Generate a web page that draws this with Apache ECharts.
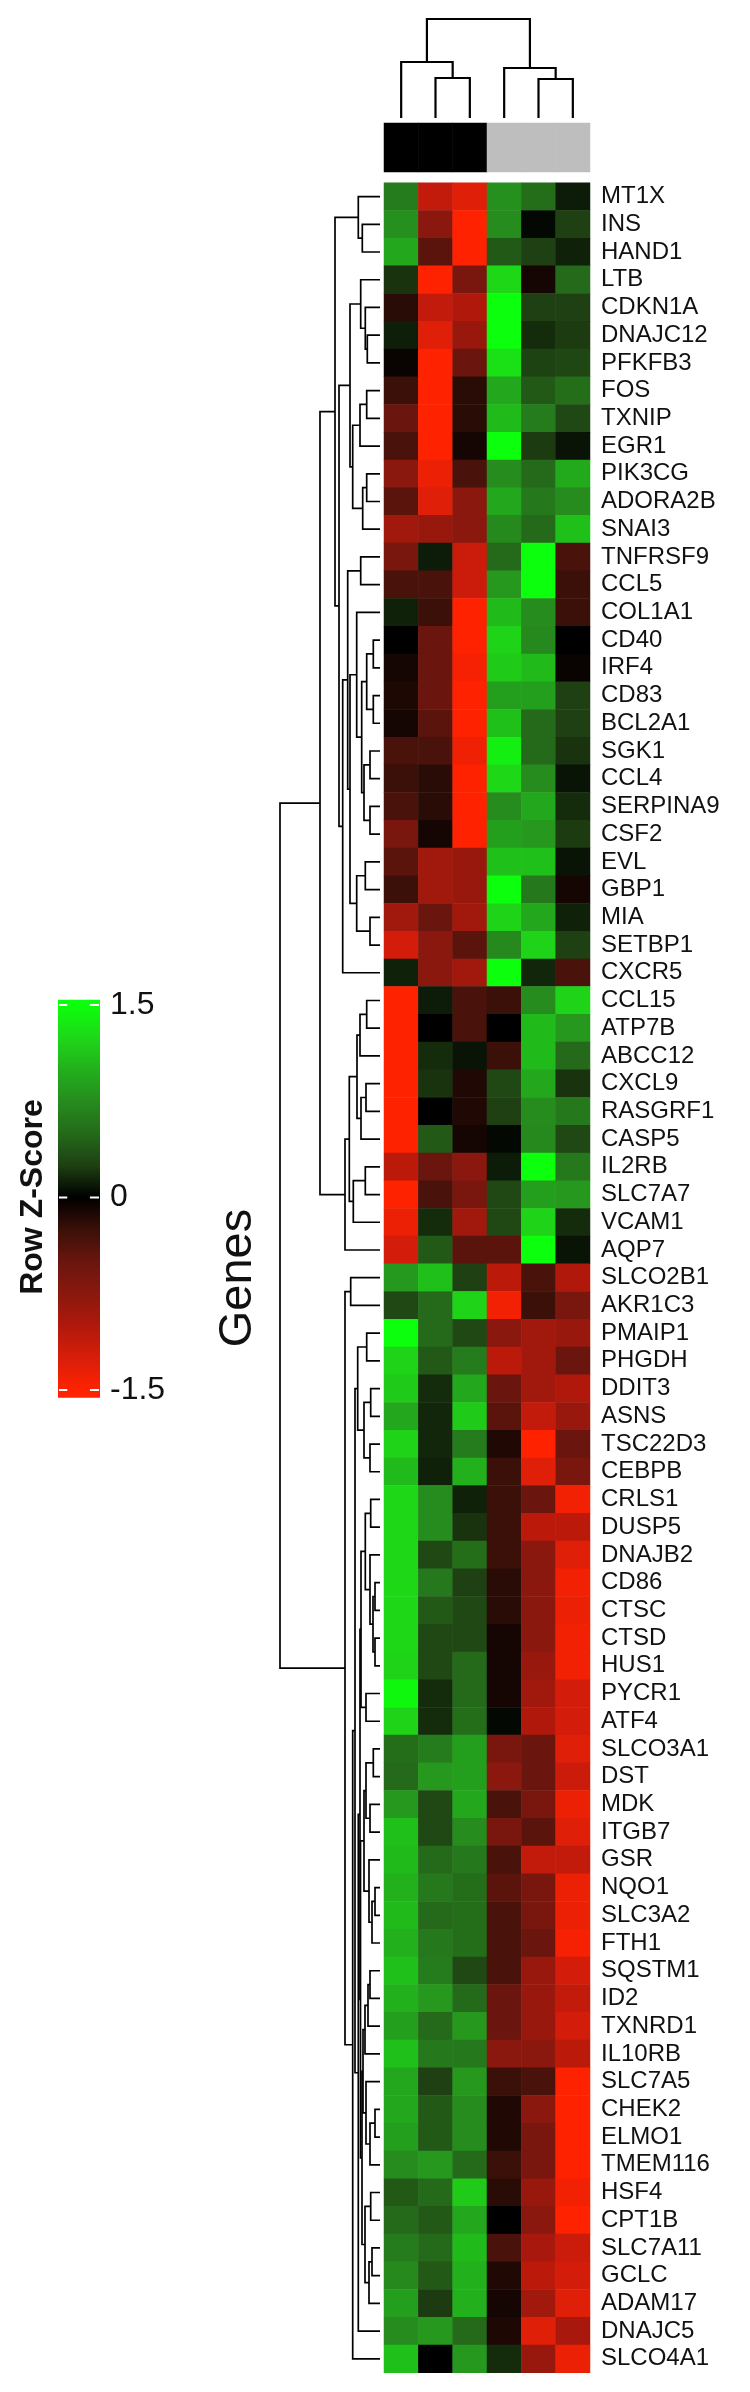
<!DOCTYPE html>
<html><head><meta charset="utf-8">
<script src="https://cdn.jsdelivr.net/npm/echarts@6/dist/echarts.min.js"></script>
<style>html,body{margin:0;padding:0;background:#fff}#c{width:750px;height:2392px}</style>
</head><body><div id="c"></div>
<script>
const genes = ['MT1X','INS','HAND1','LTB','CDKN1A','DNAJC12','PFKFB3','FOS','TXNIP','EGR1','PIK3CG','ADORA2B','SNAI3','TNFRSF9','CCL5','COL1A1','CD40','IRF4','CD83','BCL2A1','SGK1','CCL4','SERPINA9','CSF2','EVL','GBP1','MIA','SETBP1','CXCR5','CCL15','ATP7B','ABCC12','CXCL9','RASGRF1','CASP5','IL2RB','SLC7A7','VCAM1','AQP7','SLCO2B1','AKR1C3','PMAIP1','PHGDH','DDIT3','ASNS','TSC22D3','CEBPB','CRLS1','DUSP5','DNAJB2','CD86','CTSC','CTSD','HUS1','PYCR1','ATF4','SLCO3A1','DST','MDK','ITGB7','GSR','NQO1','SLC3A2','FTH1','SQSTM1','ID2','TXNRD1','IL10RB','SLC7A5','CHEK2','ELMO1','TMEM116','HSF4','CPT1B','SLC7A11','GCLC','ADAM17','DNAJC5','SLCO4A1'];
const samples = ['S1','S2','S3','S4','S5','S6'];
const sampleGroup = [0,0,0,1,1,1];
const z1 = [0.63,0.78,0.94,0.2,-0.18,0.12,-0.04,-0.25,-0.5,-0.33,-0.75,-0.42,-0.9,-0.62,-0.33,0.13,0,-0.09,-0.13,-0.09,-0.33,-0.25,-0.33,-0.62,-0.42,-0.25,-0.9,-1.22,0.13,-1.5,-1.5,-1.5,-1.5,-1.5,-1.5,-1.07,-1.5,-1.37,-1.22,0.84,0.3,1.5,1.22,1.16,0.94,1.22,1.06,1.25,1.25,1.25,1.25,1.25,1.25,1.22,1.45,1.22,0.53,0.5,0.83,1.1,1.06,1.0,1.06,1.0,1.1,1.0,0.88,1.1,0.94,0.94,0.88,0.75,0.4,0.5,0.63,0.73,0.88,0.75,1.1];
const z2 = [-1.12,-0.75,-0.42,-1.5,-1.12,-1.3,-1.5,-1.5,-1.5,-1.5,-1.37,-1.3,-0.85,0.11,-0.33,-0.25,-0.5,-0.5,-0.5,-0.42,-0.33,-0.18,-0.18,-0.09,-0.9,-0.9,-0.5,-0.75,-0.75,0.11,0,0.17,0.2,0,0.4,-0.5,-0.33,0.17,0.4,1.1,0.5,0.5,0.4,0.17,0.15,0.15,0.13,0.75,0.75,0.3,0.6,0.4,0.3,0.3,0.17,0.17,0.63,0.83,0.3,0.3,0.5,0.6,0.5,0.6,0.63,0.83,0.5,0.6,0.25,0.4,0.4,0.83,0.5,0.4,0.5,0.4,0.23,0.83,0];
const z3 = [-1.3,-1.5,-1.5,-0.62,-1.0,-0.85,-0.5,-0.18,-0.18,-0.09,-0.33,-0.75,-0.75,-1.17,-1.17,-1.5,-1.5,-1.44,-1.5,-1.5,-1.4,-1.5,-1.5,-1.5,-0.85,-0.85,-0.9,-0.42,-0.9,-0.33,-0.33,0.08,-0.14,-0.14,-0.09,-0.75,-0.62,-0.9,-0.42,0.25,1.22,0.3,0.63,0.94,1.16,0.63,1.0,0.13,0.2,0.53,0.25,0.3,0.3,0.5,0.5,0.53,0.88,0.88,0.94,0.75,0.6,0.53,0.53,0.53,0.3,0.5,0.83,0.6,0.83,0.75,0.75,0.5,1.16,0.94,1.06,1.0,1.0,0.5,0.83];
const z4 = [0.78,0.75,0.4,1.25,1.5,1.5,1.3,0.94,1.06,1.5,0.75,0.94,0.73,0.5,0.83,1.06,1.22,1.16,0.88,1.1,1.4,1.25,0.75,0.88,1.1,1.5,1.22,0.73,1.5,-0.25,0,-0.25,0.3,0.25,0.03,0.11,0.3,0.3,-0.42,-1.07,-1.42,-0.75,-1.07,-0.5,-0.42,-0.14,-0.25,-0.25,-0.25,-0.25,-0.18,-0.18,-0.09,-0.09,-0.09,0.03,-0.62,-0.75,-0.33,-0.62,-0.33,-0.42,-0.33,-0.33,-0.33,-0.5,-0.5,-0.75,-0.25,-0.14,-0.14,-0.25,-0.18,0,-0.33,-0.14,-0.09,-0.13,0.17];
const z5 = [0.53,0.03,0.25,-0.09,0.25,0.17,0.27,0.4,0.63,0.23,0.5,0.6,0.5,1.5,1.5,0.75,0.73,1.06,0.88,0.5,0.5,0.75,0.94,0.83,1.1,0.6,0.94,1.22,0.15,0.75,1.06,1.06,0.94,0.75,0.73,1.5,0.88,1.22,1.5,-0.33,-0.25,-0.9,-0.9,-0.9,-1.12,-1.5,-1.3,-0.5,-1.07,-0.75,-0.75,-0.75,-0.75,-0.85,-0.9,-1.0,-0.5,-0.5,-0.62,-0.42,-1.12,-0.62,-0.62,-0.5,-0.85,-0.85,-0.85,-0.75,-0.33,-0.75,-0.62,-0.62,-0.85,-0.75,-0.95,-1.07,-0.9,-1.3,-0.85];
const z6 = [0.11,0.25,0.13,0.5,0.25,0.23,0.29,0.53,0.3,0.08,0.95,0.75,1.1,-0.33,-0.25,-0.25,0,-0.04,0.25,0.25,0.2,0.08,0.17,0.23,0.08,-0.09,0.13,0.25,-0.33,1.22,0.83,0.5,0.2,0.6,0.3,0.6,0.83,0.17,0.08,-1.0,-0.62,-0.85,-0.5,-1.0,-0.85,-0.5,-0.62,-1.42,-1.07,-1.3,-1.42,-1.37,-1.42,-1.42,-1.22,-1.22,-1.3,-1.17,-1.37,-1.3,-1.12,-1.37,-1.37,-1.44,-1.22,-1.12,-1.22,-1.07,-1.5,-1.5,-1.5,-1.5,-1.42,-1.5,-1.17,-1.22,-1.3,-0.95,-1.37];
// dendrograms: [height, left, right]; numbers are leaf indices
const rowTree = [100,
  [60,
    [45, [21.7, 0, [17.7, 1, 2]],
      [41,
        [30, [19.3, 3, [14.7, 4, [12.7, 5, 6]]],
             [27.3, [20, [13.3, 7, 8], 9], [17.3, [13.3, 10, 11], 12]]],
        [37.3,
          [32.3, [19.3, 13, 14],
            [30,
              [23.3, 15, [18.3, [13.3, [6.7, 16, 17], [6.7, 18, 19]], [16, [10, 20, 21], [10, 22, 23]]]],
              [23.3, [14.7, 24, 25], [10, 26, 27]]]],
          28]]],
    [35, [30.7, [23, [20, [13.3, 29, 30], 31], [19, [14, 32, 33], 34]], [26.7, [14.7, 35, 36], 37]], 38]],
  [35, [29.3, 39, 40],
    [27.3,
      [25, [22.3, [13.3, 41, 42], [16, [9.3, 43, 44], [10, 45, 46]]],
        [21.7,
          [20,
            [19, [14.7, [9.3, 47, 48], [10, 49, [7, [5, 50, 51], [5, 52, 53]]]], [14, 54, 55]],
            [19.5,
              [16, [14, [6.7, 56, 57], [10, 58, 59]], [11, 60, [8, [5, 61, 62], 63]]],
              [18, [17, [15, [12, [10, 64, 65], 66], 67], [14, 68, [10, [5, 69, 70], 71]]],
                   [15, [9.3, 72, 73], [11, [8, 74, 75], 76]]]]],
          77]],
      78]]];
const colTree = [99, [56, 0, [40, 1, 2]], [50, 3, [39, 4, 5]]];
const scaleTicks = [1.5, 0, -1.5];
const rampColors = ['#ff2200','#d81e0a','#b0180c','#8a180e','#6a160e','#3a1008','#000000','#1e4012','#246a1a','#268c1e','#22b01c','#1ed818','#0cff0c'];
const groupColors = ['#000000', '#bebebe'];

const FONT = '"Liberation Sans", Arial, sans-serif';
const zCols = [z1, z2, z3, z4, z5, z6];
const heatData = [];
zCols.forEach((col, c) => col.forEach((v, r) => heatData.push([c, r, v])));

function layoutTree(node, out) {
  if (typeof node === 'number') return { pos: node + 0.5, h: 0 };
  const a = layoutTree(node[1], out), b = layoutTree(node[2], out);
  out.push([a.pos, a.h, b.pos, b.h, node[0]]);
  return { pos: (a.pos + b.pos) / 2, h: node[0] };
}
const rowSegs = []; layoutTree(rowTree, rowSegs);
const colSegs = []; layoutTree(colTree, colSegs);

const chart = echarts.init(document.getElementById('c'), null, { renderer: 'canvas' });
const hidden = { show: false };
const option = {
  animation: false,
  backgroundColor: '#ffffff',
  textStyle: { fontFamily: FONT },
  grid: [
    { left: 384, top: 182.7, width: 206, height: 2190 },
    { left: 384, top: 123, width: 206, height: 49 },
    { left: 384, top: 19, width: 206, height: 99 },
    { left: 280, top: 182.7, width: 100, height: 2190 },
    { left: 58, top: 1005, width: 42, height: 385 }
  ],
  xAxis: [
    { type: 'category', data: samples, gridIndex: 0, show: false },
    { type: 'category', data: samples, gridIndex: 1, show: false },
    { type: 'value', min: 0, max: samples.length, gridIndex: 2, show: false },
    { type: 'value', min: 0, max: 100, inverse: true, gridIndex: 3, show: false },
    { type: 'value', min: 0, max: 1, gridIndex: 4, show: false }
  ],
  yAxis: [
    { type: 'category', data: genes, gridIndex: 0, inverse: true, position: 'right',
      axisLine: hidden, axisTick: hidden, splitLine: hidden,
      axisLabel: { interval: 0, fontSize: 24, color: '#111', margin: 11, fontFamily: FONT } },
    { type: 'category', data: ['group'], gridIndex: 1, show: false },
    { type: 'value', min: 0, max: 99, gridIndex: 2, show: false },
    { type: 'value', min: 0, max: genes.length, inverse: true, gridIndex: 3, show: false },
    { type: 'value', min: -1.5, max: 1.5, interval: 1.5, gridIndex: 4, position: 'right',
      axisLine: hidden, axisTick: hidden, splitLine: hidden,
      axisLabel: { fontSize: 32, color: '#111', margin: 10, fontFamily: FONT } }
  ],
  visualMap: [
    { type: 'continuous', min: -1.5, max: 1.5, seriesIndex: 0, show: false, inRange: { color: rampColors } },
    { type: 'piecewise', seriesIndex: 1, show: false,
      pieces: groupColors.map((c, i) => ({ value: i, color: c })) }
  ],
  series: [
    { type: 'heatmap', xAxisIndex: 0, yAxisIndex: 0, data: heatData, progressive: 0,
      emphasis: { disabled: true }, itemStyle: { borderWidth: 0 } },
    { type: 'heatmap', xAxisIndex: 1, yAxisIndex: 1, emphasis: { disabled: true },
      data: sampleGroup.map((g, i) => [i, 0, g]) },
    { type: 'custom', xAxisIndex: 2, yAxisIndex: 2, clip: false, data: colSegs,
      renderItem: (p, api) => {
        const a = api.value(0), ha = api.value(1), b = api.value(2), hb = api.value(3), h = api.value(4);
        return { type: 'polyline', shape: { points: [api.coord([a, ha]), api.coord([a, h]), api.coord([b, h]), api.coord([b, hb])] },
          style: { stroke: '#000', lineWidth: 2.2, fill: null } };
      } },
    { type: 'custom', xAxisIndex: 3, yAxisIndex: 3, clip: false, data: rowSegs,
      renderItem: (p, api) => {
        const a = api.value(0), ha = api.value(1), b = api.value(2), hb = api.value(3), h = api.value(4);
        return { type: 'polyline', shape: { points: [api.coord([ha, a]), api.coord([h, a]), api.coord([h, b]), api.coord([hb, b])] },
          style: { stroke: '#000', lineWidth: 1.7, fill: null } };
      } },
    { type: 'custom', xAxisIndex: 4, yAxisIndex: 4, clip: false, data: [[0, 0]],
      renderItem: (p, api) => {
        const top = 1.54, bot = -1.56;
        const p0 = api.coord([0, top]), p1 = api.coord([1, bot]);
        const n = rampColors.length;
        const stops = rampColors.map((c, i) => {
          const v = -1.5 + 3 * i / (n - 1);
          return { offset: (top - v) / (top - bot), color: c };
        }).reverse();
        return { type: 'rect', shape: { x: p0[0], y: p0[1], width: p1[0] - p0[0], height: p1[1] - p0[1] },
          style: { fill: new echarts.graphic.LinearGradient(0, 0, 0, 1, stops) } };
      } },
    { type: 'custom', xAxisIndex: 4, yAxisIndex: 4, clip: false, z: 5, data: scaleTicks.map(t => [0, t]),
      renderItem: (p, api) => {
        const t = api.value(1);
        const l = api.coord([0, t]), r = api.coord([1, t]);
        const w = r[0] - l[0];
        const st = { stroke: '#ffffff', lineWidth: 2 };
        return { type: 'group', children: [
          { type: 'line', shape: { x1: l[0] + 1, y1: l[1], x2: l[0] + w * 0.22, y2: l[1] }, style: st },
          { type: 'line', shape: { x1: l[0] + w * 0.76, y1: l[1], x2: r[0] - 1, y2: l[1] }, style: st }
        ] };
      } }
  ],
  graphic: [
    { type: 'text', x: 33, y: 1197, rotation: Math.PI / 2,
      style: { text: 'Row Z-Score', font: 'bold 32px ' + FONT, fill: '#111', align: 'center', verticalAlign: 'middle' } },
    { type: 'text', x: 238, y: 1278, rotation: Math.PI / 2,
      style: { text: 'Genes', font: '47px ' + FONT, fill: '#111', align: 'center', verticalAlign: 'middle' } }
  ]
};
chart.setOption(option);
</script>
</body></html>
